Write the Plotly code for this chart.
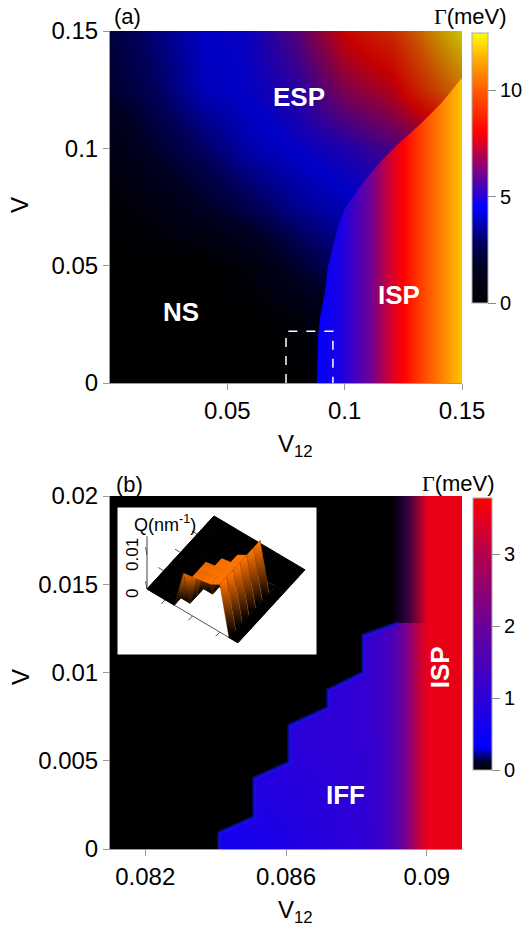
import math
import plotly.graph_objects as go
from plotly.colors import sample_colorscale

W, H = 524, 927
FONT = "Liberation Sans"

# ---------------- panel (a) data ----------------
v12_a = [0.0, 0.02, 0.04, 0.06, 0.08, 0.10, 0.12, 0.14, 0.15]
v_a = [0.0, 0.025, 0.05, 0.075, 0.10, 0.125, 0.15]
gamma_a = [
    [0.0, 0.0, 0.0, 0.0, 0.0, 1.2, 1.2, 1.2, 1.2],
    [0.0, 0.0, 0.0, 0.0, 0.5, 1.8, 1.8, 1.8, 1.8],
    [0.0, 0.0, 0.0, 0.8, 2.3, 3.3, 3.5, 3.5, 3.5],
    [0.3, 1.0, 2.0, 2.9, 3.8, 4.3, 4.5, 4.5, 4.5],
    [1.0, 2.3, 3.2, 4.2, 4.6, 5.0, 5.8, 6.5, 7.0],
    [2.2, 3.1, 4.3, 4.6, 5.2, 6.7, 7.6, 10.0, 11.0],
    [2.5, 3.5, 4.5, 4.7, 6.0, 8.1, 9.2, 11.7, 12.7],
]
# ISP phase boundary
bnd_v12 = [0.0882, 0.0887, 0.0895, 0.0915, 0.0928, 0.0945, 0.0970, 0.1000,
           0.1040, 0.1090, 0.1160, 0.1230, 0.1320, 0.1410, 0.1500]
bnd_v = [0.0000, 0.0200, 0.0280, 0.0380, 0.0490, 0.0560, 0.0660, 0.0740,
         0.0800, 0.0870, 0.0950, 0.1020, 0.1100, 0.1190, 0.1300]
# Gamma inside ISP along V12
isp_v12 = [0.0880, 0.0990, 0.1110, 0.1190, 0.1250, 0.1350, 0.1436, 0.1500]
isp_gamma = [4.5, 4.9, 6.0, 7.3, 8.0, 9.8, 11.0, 11.8]
box_v12 = [0.075, 0.095]
box_v = [0.0, 0.022]
range_v12_a = [0.0, 0.15]
range_v_a = [0.0, 0.15]
xt_a = [0.05, 0.1, 0.15]
xt_a_txt = ["0.05", "0.1", "0.15"]
yt_a = [0.0, 0.05, 0.1, 0.15]
yt_a_txt = ["0", "0.05", "0.1", "0.15"]
gmax_a = 12.7
cb_a_ticks = [0, 5, 10]
cs_a_vals = [0.0, 2.0, 3.0, 4.5, 6.0, 8.0, 10.0, 11.5, 12.7]
cs_a_cols = ["rgb(0,0,0)", "rgb(0,0,45)", "rgb(0,0,110)", "rgb(0,0,255)",
             "rgb(110,0,150)", "rgb(255,0,0)", "rgb(255,90,0)",
             "rgb(255,175,0)", "rgb(255,255,0)"]

# ---------------- panel (b) data ----------------
v12_b = [0.0810, 0.0845, 0.0860, 0.0880, 0.0886, 0.0890, 0.0894, 0.0897, 0.0900, 0.0910]
v_b = [0.0, 0.006, 0.02]
gamma_b = [
    [0.6, 0.6, 0.75, 1.0, 1.15, 1.5, 2.2, 3.0, 3.55, 3.55],
    [0.95, 0.95, 0.95, 1.05, 1.2, 1.5, 2.2, 3.0, 3.55, 3.55],
    [1.0, 1.0, 1.0, 1.05, 1.2, 1.5, 2.2, 3.0, 3.55, 3.55],
]
# NS / IFF staircase boundary
stair_v12 = [0.0841, 0.0841, 0.0851, 0.0851, 0.0861, 0.0861, 0.0872, 0.0872,
             0.0882, 0.0882, 0.0892]
stair_v = [0.0000, 0.0009, 0.0018, 0.0040, 0.0049, 0.0070, 0.0080, 0.0090,
           0.0100, 0.0121, 0.0128]
fade_v12 = [0.0890, 0.0900]
range_v12_b = [0.081, 0.091]
range_v_b = [0.0, 0.02]
xt_b = [0.082, 0.086, 0.09]
xt_b_txt = ["0.082", "0.086", "0.09"]
yt_b = [0.0, 0.005, 0.01, 0.015, 0.02]
yt_b_txt = ["0", "0.005", "0.01", "0.015", "0.02"]
gmax_b = 3.78
cb_b_ticks = [0, 1, 2, 3]
cs_b_vals = [0.0, 0.13, 0.32, 1.0, 2.0, 3.0, 3.78]
cs_b_cols = ["rgb(0,0,0)", "rgb(0,0,60)", "rgb(0,0,255)", "rgb(45,0,215)",
             "rgb(105,0,155)", "rgb(180,0,75)", "rgb(255,0,0)"]

# ---------------- inset data: Q (nm^-1) over (V12, V) ----------------
q_v12 = [0.081, 0.082, 0.083, 0.084, 0.085, 0.086, 0.087, 0.088, 0.089, 0.090, 0.091]
q_v = [0.0, 0.002, 0.004, 0.006, 0.008, 0.010, 0.012, 0.014, 0.016, 0.018, 0.020]
q_vals = [
    [0, 0, 0, 0, 0.0110, 0.0115, 0.0120, 0.0125, 0.0140, 0, 0],
    [0, 0, 0, 0, 0, 0.0115, 0.0120, 0.0125, 0.0140, 0, 0],
    [0, 0, 0, 0, 0, 0.0115, 0.0120, 0.0125, 0.0140, 0, 0],
    [0, 0, 0, 0, 0, 0, 0.0120, 0.0125, 0.0140, 0, 0],
    [0, 0, 0, 0, 0, 0, 0, 0.0125, 0.0140, 0, 0],
    [0, 0, 0, 0, 0, 0, 0, 0, 0.0140, 0, 0],
    [0, 0, 0, 0, 0, 0, 0, 0, 0.0140, 0, 0],
    [0, 0, 0, 0, 0, 0, 0, 0, 0, 0, 0],
    [0, 0, 0, 0, 0, 0, 0, 0, 0, 0, 0],
    [0, 0, 0, 0, 0, 0, 0, 0, 0, 0, 0],
    [0, 0, 0, 0, 0, 0, 0, 0, 0, 0, 0],
]
q_cmax = 0.0125
q_axis_top = 0.0155
q_v_ticks = [0.005, 0.01, 0.015]
q_v12_ticks = [0.083, 0.086, 0.089]
cs_q = [[0, "rgb(0,0,0)"], [1, "rgb(255,115,0)"]]

# view of the inset (azimuth / elevation, degrees) and its placement
VIEW_AZ, VIEW_EL = -53.6, 53.4
Q_UNIT = 0.0198            # Q giving one box-edge of height
INSET_ORIGIN = (147, 589)  # pixel of the (V12 min, V min, Q=0) corner
INSET_SCALE = 113.0        # pixels per box edge
INSET_BOX = (117, 507, 317, 655)


def px(x):
    return x / W


def py(y):
    return 1 - y / H


def cscale(vals, cols):
    top = vals[-1]
    return [[v / top, c] for v, c in zip(vals, cols)]


def qcol(q):
    t = min(max(q / q_cmax, 0.0), 1.0)
    return sample_colorscale(cs_q, [t])[0]


cs_a = cscale(cs_a_vals, cs_a_cols)
cs_b = cscale(cs_b_vals, cs_b_cols)

isp_cols = sample_colorscale(cs_a, [g / gmax_a for g in isp_gamma])
isp_cs = [[(x - isp_v12[0]) / (isp_v12[-1] - isp_v12[0]), c]
          for x, c in zip(isp_v12, isp_cols)]

fig = go.Figure()

# ---- panel (a) ----
fig.add_trace(go.Heatmap(
    x=v12_a, y=v_a, z=gamma_a, zmin=0, zmax=gmax_a, colorscale=cs_a,
    zsmooth="best", xaxis="x", yaxis="y", hoverinfo="skip",
    colorbar=dict(x=px(472), xanchor="left", xpad=0, y=py(33), yanchor="top",
                  ypad=0, len=270, lenmode="pixels", thickness=16,
                  thicknessmode="pixels", outlinecolor="#aaaaaa", outlinewidth=1,
                  tickvals=cb_a_ticks, ticks="outside", ticklen=8,
                  tickcolor="#888888",
                  tickfont=dict(family=FONT, size=20, color="black")),
))
fig.add_trace(go.Scatter(
    x=[range_v12_a[0]] + bnd_v12 + [range_v12_a[1], range_v12_a[0]],
    y=[range_v_a[0]] + bnd_v + [range_v_a[1], range_v_a[1]],
    mode="lines", fill="toself", fillcolor="rgba(0,0,0,0.22)",
    line=dict(width=0), xaxis="x", yaxis="y", hoverinfo="skip", showlegend=False))
fig.add_trace(go.Scatter(
    x=bnd_v12 + [range_v12_a[1]], y=bnd_v + [range_v_a[0]],
    mode="lines", fill="toself",
    fillgradient=dict(type="horizontal", colorscale=isp_cs,
                      start=isp_v12[0], stop=isp_v12[-1]),
    line=dict(width=0), xaxis="x", yaxis="y", hoverinfo="skip", showlegend=False))

# ---- panel (b) ----
fig.add_trace(go.Heatmap(
    x=v12_b, y=v_b, z=gamma_b, zmin=0, zmax=gmax_b, colorscale=cs_b,
    zsmooth="best", xaxis="x2", yaxis="y2", hoverinfo="skip",
    colorbar=dict(x=px(473), xanchor="left", xpad=0, y=py(498), yanchor="top",
                  ypad=0, len=272, lenmode="pixels", thickness=19,
                  thicknessmode="pixels", outlinecolor="#aaaaaa", outlinewidth=1,
                  tickvals=cb_b_ticks, ticks="outside", ticklen=8,
                  tickcolor="#888888",
                  tickfont=dict(family=FONT, size=20, color="black")),
))
fig.add_trace(go.Scatter(
    x=[range_v12_b[0]] + stair_v12 + [range_v12_b[1], range_v12_b[1], range_v12_b[0]],
    y=[range_v_b[0]] + stair_v + [stair_v[-1], range_v_b[1], range_v_b[1]],
    mode="lines", fill="toself",
    fillgradient=dict(type="horizontal",
                      colorscale=[[0, "rgba(0,0,0,1)"], [1, "rgba(0,0,0,0)"]],
                      start=fade_v12[0], stop=fade_v12[1]),
    line=dict(width=0), xaxis="x2", yaxis="y2", hoverinfo="skip", showlegend=False))
fig.add_trace(go.Scatter(
    x=stair_v12, y=stair_v, mode="lines",
    line=dict(color="rgba(20,20,255,0.55)", width=4),
    xaxis="x2", yaxis="y2", hoverinfo="skip", showlegend=False))

# ---- inset: 3D view of Q drawn as projected facets ----
az, el = math.radians(VIEW_AZ), math.radians(VIEW_EL)
R = (-math.sin(az), math.cos(az), 0.0)
U = (-math.cos(az) * math.sin(el), -math.sin(az) * math.sin(el), math.cos(el))
E = (math.cos(az) * math.cos(el), math.sin(az) * math.cos(el), math.sin(el))


def norm3(x, y, q):
    return ((x - q_v12[0]) / (q_v12[-1] - q_v12[0]),
            (y - q_v[0]) / (q_v[-1] - q_v[0]),
            q / Q_UNIT)


def proj(x, y, q):
    u, v, w = norm3(x, y, q)
    return (u * R[0] + v * R[1] + w * R[2], u * U[0] + v * U[1] + w * U[2])


def line3(pts, color="#555555", width=1):
    xs, ys = zip(*[proj(*p) for p in pts])
    fig.add_trace(go.Scatter(x=list(xs), y=list(ys), mode="lines",
                             line=dict(color=color, width=width),
                             xaxis="x3", yaxis="y3", hoverinfo="skip",
                             showlegend=False))


tick_len = 0.06 * (q_v12[-1] - q_v12[0])
tick_len_v = 0.06 * (q_v[-1] - q_v[0])
# floor edges with ticks (behind the surface)
line3([(q_v12[0], q_v[0], 0), (q_v12[0], q_v[-1], 0)])
for t in q_v_ticks:
    line3([(q_v12[0], t, 0), (q_v12[0] - tick_len, t, 0)])
line3([(q_v12[0], q_v[0], 0), (q_v12[-1], q_v[0], 0)])
for t in q_v12_ticks:
    line3([(t, q_v[0], 0), (t, q_v[0] - tick_len_v, 0)])

facets = []
for i in range(len(q_v) - 1):
    for j in range(len(q_v12) - 1):
        corners = [(j, i), (j + 1, i), (j + 1, i + 1), (j, i + 1)]
        pts = [(q_v12[a], q_v[b], q_vals[b][a]) for a, b in corners]
        uc = sum(norm3(*p)[0] for p in pts) / 4
        vc = sum(norm3(*p)[1] for p in pts) / 4
        depth = uc * E[0] + vc * E[1]
        facets.append((depth, pts))
facets.sort(key=lambda f: f[0])

for depth, pts in facets:
    xy = [proj(*p) for p in pts]
    xs = [p[0] for p in xy] + [xy[0][0]]
    ys = [p[1] for p in xy] + [xy[0][1]]
    qs = [p[2] for p in pts]
    qlo, qhi = min(qs), max(qs)
    c_lo, c_hi = qcol(qlo), qcol(qhi)
    if qhi - qlo < 1e-9:
        fig.add_trace(go.Scatter(x=xs, y=ys, mode="lines", fill="toself",
                                 fillcolor=c_lo, line=dict(color=c_lo, width=1),
                                 xaxis="x3", yaxis="y3", hoverinfo="skip",
                                 showlegend=False))
    else:
        y_lo = sum(xy[k][1] for k in range(4) if qs[k] == qlo) / qs.count(qlo)
        y_hi = sum(xy[k][1] for k in range(4) if qs[k] == qhi) / qs.count(qhi)
        if y_hi >= y_lo:
            grad = dict(type="vertical", colorscale=[[0, c_lo], [1, c_hi]],
                        start=y_lo, stop=y_hi)
        else:
            grad = dict(type="vertical", colorscale=[[0, c_hi], [1, c_lo]],
                        start=y_hi, stop=y_lo)
        c_mid = qcol(0.5 * (qlo + qhi))
        fig.add_trace(go.Scatter(x=xs, y=ys, mode="lines", fill="toself",
                                 fillgradient=grad, line=dict(color=c_mid, width=0.3),
                                 xaxis="x3", yaxis="y3", hoverinfo="skip",
                                 showlegend=False))

# vertical Q axis at the corner
line3([(q_v12[0], q_v[0], 0), (q_v12[0], q_v[0], q_axis_top)], color="#444444")
for t in [0.0, 0.01]:
    line3([(q_v12[0], q_v[0], t), (q_v12[0] - tick_len, q_v[0] + tick_len_v, t)],
          color="#444444")

x3_range = [(INSET_BOX[0] - INSET_ORIGIN[0]) / INSET_SCALE,
            (INSET_BOX[2] - INSET_ORIGIN[0]) / INSET_SCALE]
y3_range = [(INSET_ORIGIN[1] - INSET_BOX[3]) / INSET_SCALE,
            (INSET_ORIGIN[1] - INSET_BOX[1]) / INSET_SCALE]

axis_common = dict(showline=True, linecolor="#999999", linewidth=1, ticks="outside",
                   ticklen=6, tickcolor="#999999", showgrid=False, zeroline=False,
                   automargin=False,
                   tickfont=dict(family=FONT, size=24, color="black"), mirror=False)

fig.update_layout(
    width=W, height=H, autosize=False,
    margin=dict(l=0, r=0, t=0, b=0, autoexpand=False),
    paper_bgcolor="white", plot_bgcolor="white",
    showlegend=False, hovermode=False,
    font=dict(family=FONT, color="black"),
    xaxis=dict(domain=[px(110), px(462)], range=range_v12_a, anchor="y",
               tickvals=xt_a, ticktext=xt_a_txt, **axis_common),
    yaxis=dict(domain=[py(383), py(31)], range=range_v_a, anchor="x",
               tickvals=yt_a, ticktext=yt_a_txt, **axis_common),
    xaxis2=dict(domain=[px(110), px(462)], range=range_v12_b, anchor="y2",
                tickvals=xt_b, ticktext=xt_b_txt, **axis_common),
    yaxis2=dict(domain=[py(849), py(496)], range=range_v_b, anchor="x2",
                tickvals=yt_b, ticktext=yt_b_txt, **axis_common),
    xaxis3=dict(domain=[px(INSET_BOX[0]), px(INSET_BOX[2])], range=x3_range,
                anchor="y3", visible=False, automargin=False),
    yaxis3=dict(domain=[py(INSET_BOX[3]), py(INSET_BOX[1])], range=y3_range,
                anchor="x3", visible=False, automargin=False),
)

# dashed box in (a)
fig.add_shape(type="path", xref="x", yref="y",
              path=f"M {box_v12[0]},{box_v[0]} L {box_v12[0]},{box_v[1]} "
                   f"L {box_v12[1]},{box_v[1]} L {box_v12[1]},{box_v[0]}",
              line=dict(color="white", width=1.5, dash="dash"), layer="above")
# inset frame (under the inset facets)
fig.add_shape(type="rect", xref="x3", yref="y3",
              x0=x3_range[0], x1=x3_range[1], y0=y3_range[0], y1=y3_range[1],
              fillcolor="white", line=dict(color="black", width=1), layer="below")

ann = []


def add_text(text, x, y, size, color="black", angle=0, bold=False,
             xr="paper", yr="paper"):
    t = f"<b>{text}</b>" if bold else text
    ann.append(dict(text=t, x=x, y=y, xref=xr, yref=yr, showarrow=False,
                    font=dict(family=FONT, size=size, color=color),
                    textangle=angle, xanchor="center", yanchor="middle"))


gamma_txt = '<span style="font-family:Liberation Serif">Γ</span>(meV)'
add_text("(a)", px(127), py(17), 22)
add_text(gamma_txt, px(470), py(17), 22)
add_text("V", px(20), py(205), 24, angle=-90)
add_text("V<sub>12</sub>", px(295), py(445), 24)
add_text("(b)", px(129), py(485), 22)
add_text(gamma_txt, px(458), py(483), 22)
add_text("V", px(20), py(677), 24, angle=-90)
add_text("V<sub>12</sub>", px(295), py(911), 24)

add_text("ESP", 0.0805, 0.1219, 26, color="white", bold=True, xr="x", yr="y")
add_text("NS", 0.0303, 0.0303, 26, color="white", bold=True, xr="x", yr="y")
add_text("ISP", 0.1232, 0.0375, 26, color="white", bold=True, xr="x", yr="y")
add_text("IFF", 0.08768, 0.00306, 26, color="white", bold=True, xr="x2", yr="y2")
add_text("ISP", 0.09038, 0.01031, 26, color="white", bold=True, angle=-90,
         xr="x2", yr="y2")

add_text("Q(nm<sup>-1</sup>)", px(165), py(523), 18)
add_text("0.01", px(132), py(555), 17, angle=-90)
add_text("0", px(132), py(594), 17, angle=-90)

fig.update_layout(annotations=ann)

fig.write_html("out.html",
               config={"displayModeBar": False, "staticPlot": True},
               post_script="document.body.style.margin='0px';"
                           "document.body.style.overflow='hidden';")
